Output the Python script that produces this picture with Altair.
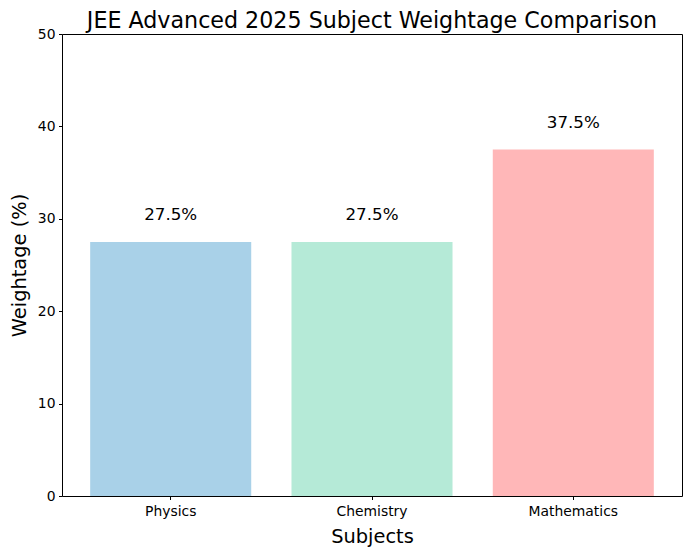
import altair as alt
import pandas as pd

subjects = ["Physics", "Chemistry", "Mathematics"]
weightage = [27.5, 27.5, 37.5]
colors = ["#a9d1e8", "#b5ead7", "#ffb7b8"]
y_ticks = [0, 10, 20, 30, 40, 50]

df = pd.DataFrame({"Subject": subjects, "Weightage": weightage})
df["Label"] = [f"{v}%" for v in weightage]
df["LabelPos"] = [v + 2 for v in weightage]

FONT = "DejaVu Sans"

x_enc = alt.X(
    "Subject:N",
    sort=subjects,
    scale=alt.Scale(paddingInner=0.2, paddingOuter=0.14),
    axis=alt.Axis(
        title="Subjects", labelAngle=0, labelFontSize=13.9, titleFontSize=19.4,
        titleFontWeight="normal", tickSize=3.5, labelPadding=5, titlePadding=9,
        domain=False, grid=False, labelColor="black", titleColor="black",
        tickColor="black", labelFont=FONT, titleFont=FONT,
    ),
)

bars = alt.Chart(df).mark_bar().encode(
    x=x_enc,
    y=alt.Y(
        "Weightage:Q",
        scale=alt.Scale(domain=[0, 50], nice=False),
        axis=alt.Axis(
            title="Weightage (%)", values=y_ticks, labelFontSize=13.9, titleFontSize=19.4,
            titleFontWeight="normal", tickSize=3.5, labelPadding=3.5, titlePadding=8,
            domain=False, grid=False, labelColor="black", titleColor="black",
            tickColor="black", labelFont=FONT, titleFont=FONT,
        ),
    ),
    color=alt.Color("Subject:N", scale=alt.Scale(domain=subjects, range=colors), legend=None),
)

text = alt.Chart(df).mark_text(
    baseline="bottom", fontSize=16.7, font=FONT, color="black", dy=1
).encode(
    x=alt.X("Subject:N", sort=subjects),
    y=alt.Y("LabelPos:Q"),
    text="Label:N",
)

chart = (
    alt.layer(bars, text)
    .properties(
        width=620,
        height=462,
        autosize=alt.AutoSizeParams(type="none"),
        padding={"left": 54, "top": 26, "right": 1, "bottom": 60},
        title=alt.Title(
            "JEE Advanced 2025 Subject Weightage Comparison",
            fontSize=22.2, fontWeight="normal", font=FONT, color="black",
            anchor="middle", offset=-5,
        ),
    )
    .configure_view(stroke="black", strokeWidth=1)
)

chart.save("out.html", embed_options={"renderer": "svg", "actions": False})
